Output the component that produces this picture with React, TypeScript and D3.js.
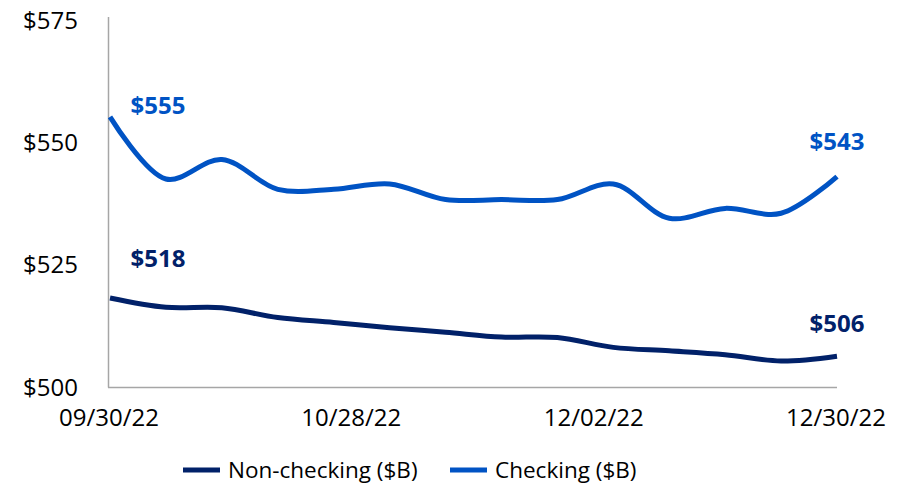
import React from "react";
import * as d3 from "d3";

const categories = ["09/30/22","10/07/22","10/14/22","10/21/22","10/28/22","11/04/22","11/11/22","11/18/22","11/25/22","12/02/22","12/09/22","12/16/22","12/23/22","12/30/22"];
const checking = [555.2, 542.5, 546.5, 540.4, 540.4, 541.5, 538.3, 538.3, 538.3, 541.5, 534.5, 536.5, 535.5, 543];
const nonChecking = [518.2, 516.3, 516.2, 514.2, 513.2, 512.1, 511.2, 510.2, 510.1, 508.1, 507.4, 506.6, 505.3, 506.3];
const xTickLabels = ["09/30/22", "10/28/22", "12/02/22", "12/30/22"];
const yTicks = [500, 525, 550, 575];
const seriesNames = ["Non-checking ($B)", "Checking ($B)"];
const colors = { nonChecking: "#012169", checking: "#0053C4" };

const W = 911, H = 489;
const FONT = "'Open Sans', sans-serif";

export default function App() {
  const x = d3.scalePoint<string>().domain(categories).range([110, 837]);
  const xt = d3.scalePoint<string>().domain(xTickLabels).range([109, 836]);
  const y = d3.scaleLinear().domain([500, 575]).range([387, 20]);
  const line = d3
    .line<number>()
    .x((_, i) => x(categories[i]) as number)
    .y((d) => y(d))
    .curve(d3.curveCatmullRom.alpha(0.5));

  const last = categories.length - 1;
  const fmt = (v: number) => "$" + Math.round(v);

  return (
    <svg width={W} height={H} style={{ position: "absolute", left: 0, top: 0 }} fontFamily={FONT}>
      <rect width={W} height={H} fill="#fff" />
      <line x1={108.5} x2={108.5} y1={17} y2={387.5} stroke="#a6a6a6" strokeWidth={1.5} />
      <line x1={108} x2={837} y1={387.5} y2={387.5} stroke="#a6a6a6" strokeWidth={1.5} />
      {yTicks.map((t) => (
        <text key={t} x={78} y={y(t)} dy="0.36em" textAnchor="end" fontSize={24} fill="#000">
          {"$" + t}
        </text>
      ))}
      {xTickLabels.map((t) => (
        <text key={t} x={xt(t)} y={426} textAnchor="middle" fontSize={24} fill="#000">
          {t}
        </text>
      ))}
      <path d={line(checking) || ""} fill="none" stroke={colors.checking} strokeWidth={5} />
      <path d={line(nonChecking) || ""} fill="none" stroke={colors.nonChecking} strokeWidth={5} />
      <text x={158} y={114} textAnchor="middle" fontSize={24} fontWeight="bold" fill={colors.checking}>
        {fmt(checking[0])}
      </text>
      <text x={158} y={267} textAnchor="middle" fontSize={24} fontWeight="bold" fill={colors.nonChecking}>
        {fmt(nonChecking[0])}
      </text>
      <text x={(x(categories[last]) as number)} y={150} textAnchor="middle" fontSize={24} fontWeight="bold" fill={colors.checking}>
        {fmt(checking[last])}
      </text>
      <text x={(x(categories[last]) as number)} y={332} textAnchor="middle" fontSize={24} fontWeight="bold" fill={colors.nonChecking}>
        {fmt(nonChecking[last])}
      </text>
      <g>
        <line x1={183} x2={220} y1={470} y2={470} stroke={colors.nonChecking} strokeWidth={5} />
        <text x={228} y={470} dy="0.36em" fontSize={22.5} fill="#000">{seriesNames[0]}</text>
        <line x1={450} x2={487} y1={470} y2={470} stroke={colors.checking} strokeWidth={5} />
        <text x={495} y={470} dy="0.36em" fontSize={22.5} fill="#000">{seriesNames[1]}</text>
      </g>
    </svg>
  );
}
